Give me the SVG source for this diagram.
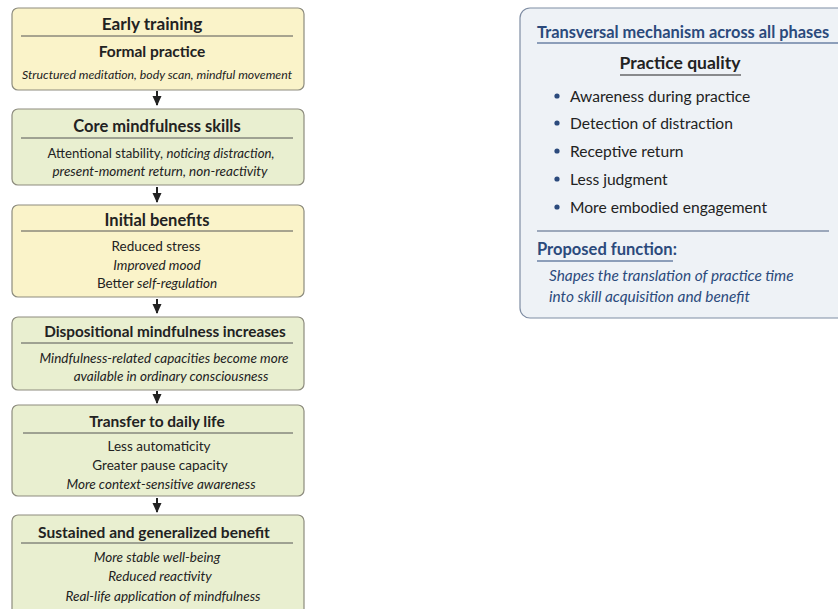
<svg xmlns="http://www.w3.org/2000/svg" width="838" height="609" viewBox="0 0 838 609">
<style>
text{font-family:Lato,"Open Sans","Liberation Sans",sans-serif;fill:#222;text-anchor:middle}
.y{fill:#faf3c9;stroke:#8d8c7e;stroke-width:1.2}
.g{fill:#e9efd0;stroke:#8d8c7e;stroke-width:1.2}
.t{font-size:16.5px;font-weight:bold}
.b{font-size:13.5px}
.i{font-style:italic}
.sep{stroke:#555;stroke-width:1}
.arr{stroke:#222;stroke-width:2;fill:none}
.bl{fill:#2b4a7c}
.left{text-anchor:start}
.r{font-size:15.6px}
</style>
<defs>
<marker id="ah" viewBox="0 0 10 10" refX="9" refY="5" markerUnits="userSpaceOnUse" markerWidth="10" markerHeight="10" orient="auto"><path d="M0,0.5 L10,5 L0,9.5 z" fill="#222"/></marker>
</defs>
<rect width="838" height="609" fill="#ffffff"/>
<g id="connectors">
<line class="arr" x1="157" y1="91" x2="157" y2="105" marker-end="url(#ah)"/>
<line class="arr" x1="157" y1="187" x2="157" y2="202" marker-end="url(#ah)"/>
<line class="arr" x1="157" y1="299" x2="157" y2="313" marker-end="url(#ah)"/>
<line class="arr" x1="157" y1="391" x2="157" y2="403" marker-end="url(#ah)"/>
<line class="arr" x1="157" y1="498" x2="157" y2="512" marker-end="url(#ah)"/>
</g>
<g id="n1">
<rect class="y" x="12" y="8" width="292" height="82" rx="6"/>
<text class="t" x="152" y="30" style="font-size:17.2px">Early training</text>
<line class="sep" x1="21" y1="36" x2="293" y2="36"/>
<text x="152" y="57" style="font-size:15.5px;font-weight:bold">Formal practice</text>
<text class="i" x="157" y="79" style="font-size:12.3px">Structured meditation, body scan, mindful movement</text>
</g>
<g id="n2">
<rect class="g" x="12" y="109" width="292" height="76" rx="6"/>
<text class="t" x="157" y="132">Core mindfulness skills</text>
<line class="sep" x1="21" y1="138" x2="293" y2="138"/>
<text class="b" x="161" y="158" style="font-size:13.2px">Attentional stability, <tspan class="i">noticing distraction,</tspan></text>
<text class="b i" x="160" y="176">present-moment return, non-reactivity</text>
</g>
<g id="n3">
<rect class="y" x="12" y="205" width="292" height="92" rx="6"/>
<text class="t" x="157" y="226">Initial benefits</text>
<line class="sep" x1="21" y1="231" x2="293" y2="231"/>
<text class="b" x="156" y="251">Reduced stress</text>
<text class="b i" x="157" y="270">Improved mood</text>
<text class="b" x="157" y="288">Better <tspan class="i">self-regulation</tspan></text>
</g>
<g id="n4">
<rect class="g" x="12" y="317" width="292" height="73" rx="6"/>
<text class="t" x="165" y="337" style="font-size:15.3px">Dispositional mindfulness increases</text>
<line class="sep" x1="21" y1="343" x2="293" y2="343"/>
<text class="b i" x="164" y="363">Mindfulness-related capacities become more</text>
<text class="b i" x="171" y="381">available in ordinary consciousness</text>
</g>
<g id="n5">
<rect class="g" x="12" y="405" width="292" height="91" rx="6"/>
<text class="t" x="157" y="427" style="font-size:15.5px">Transfer to daily life</text>
<line class="sep" x1="23" y1="433" x2="293" y2="433"/>
<text class="b" x="159" y="451">Less automaticity</text>
<text class="b" x="160" y="470">Greater pause capacity</text>
<text class="b i" x="161" y="489">More context-sensitive awareness</text>
</g>
<g id="n6">
<rect class="g" x="12" y="515" width="292" height="100" rx="6"/>
<text class="t" x="154" y="538" style="font-size:15.5px">Sustained and generalized benefit</text>
<line class="sep" x1="21" y1="543" x2="293" y2="543"/>
<text class="b i" x="157" y="562">More stable well-being</text>
<text class="b i" x="160" y="581">Reduced reactivity</text>
<text class="b i" x="163" y="601">Real-life application of mindfulness</text>
</g>
<g id="panel">
<rect x="520" y="8" width="340" height="310" rx="10" fill="#eef2f6" stroke="#7f8da3" stroke-width="1.2"/>
<text class="left bl" x="537" y="38" style="font-size:16.4px;font-weight:bold">Transversal mechanism across all phases</text>
<line x1="537" y1="43" x2="838" y2="43" stroke="#2b4a7c" stroke-width="1"/>
<text x="680" y="69" style="font-size:17.5px;font-weight:bold">Practice quality</text>
<line x1="620" y1="75" x2="741" y2="75" stroke="#222" stroke-width="1"/>
<g class="bl">
<circle cx="557" cy="96" r="2.6"/>
<circle cx="557" cy="123" r="2.6"/>
<circle cx="557" cy="151" r="2.6"/>
<circle cx="557" cy="179" r="2.6"/>
<circle cx="557" cy="207" r="2.6"/>
</g>
<text class="left r" x="570" y="102">Awareness during practice</text>
<text class="left r" x="570" y="129">Detection of distraction</text>
<text class="left r" x="570" y="157">Receptive return</text>
<text class="left r" x="570" y="185">Less judgment</text>
<text class="left r" x="570" y="213">More embodied engagement</text>
<line x1="537" y1="231" x2="829" y2="231" stroke="#4a5f80" stroke-width="1"/>
<text class="left bl" x="537" y="255" style="font-size:16.5px;font-weight:bold">Proposed function:</text>
<line x1="537" y1="261" x2="673" y2="261" stroke="#2b4a7c" stroke-width="1"/>
<text class="left bl i" x="549" y="281" style="font-size:15.4px">Shapes the translation of practice time</text>
<text class="left bl i" x="549" y="302" style="font-size:15.4px">into skill acquisition and benefit</text>
</g>
</svg>
